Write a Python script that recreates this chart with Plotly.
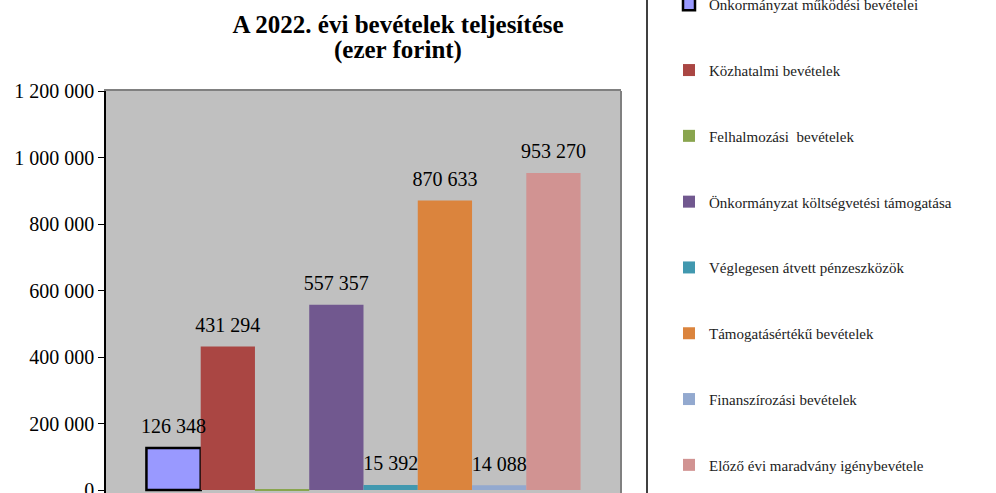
import plotly.graph_objects as go

category = ["2022"]
series_names = [
    "Önkormányzat működési bevételei",
    "Közhatalmi bevételek",
    "Felhalmozási  bevételek",
    "Önkormányzat költségvetési támogatása",
    "Véglegesen átvett pénzeszközök",
    "Támogatásértékű bevételek",
    "Finanszírozási bevételek",
    "Előző évi maradvány igénybevétele",
]
values = [126348, 431294, 3000, 557357, 15392, 870633, 14088, 953270]
show_label = [True, True, False, True, True, True, True, True]
colors = ["#9999FF", "#AA4643", "#89A54E", "#71588F", "#4198AF", "#DB843D", "#93A9CF", "#D19392"]
y_ticks = [0, 200000, 400000, 600000, 800000, 1000000, 1200000]
title_line1 = "A 2022. évi bevételek teljesítése"
title_line2 = "(ezer forint)"

SERIF = "Liberation Serif, Times New Roman, serif"
W, H = 996, 493

fig = go.Figure()
for i, (name, v, c) in enumerate(zip(series_names, values, colors)):
    fig.add_trace(go.Bar(
        x=category, y=[v], name=name,
        marker=dict(color=c, line=dict(color="black", width=2.5 if i == 0 else 0)),
        offsetgroup=f"g{i}",
        legendgroup=f"g{i}",
        hoverinfo="skip",
    ))
for i, (v, show) in enumerate(zip(values, show_label)):
    fig.add_trace(go.Scatter(
        x=category, y=[v], mode="markers+text",
        text=[f"{v:,}".replace(",", " ") if show else ""],
        textposition="top center",
        textfont=dict(family=SERIF, size=20, color="black"),
        marker=dict(size=14, opacity=0),
        offsetgroup=f"g{i}",
        showlegend=False, cliponaxis=False, hoverinfo="skip",
    ))

title_px = 398
fig.update_layout(
    width=W, height=H,
    margin=dict(l=106, r=375, t=91, b=0, autoexpand=False),
    paper_bgcolor="white",
    plot_bgcolor="#C0C0C0",
    separators=", ",
    barmode="group",
    scattermode="group",
    bargap=0.157,
    bargroupgap=0,
    scattergap=0.157,
    title=dict(
        text=f"<b>{title_line1}</b>",
        font=dict(family=SERIF, size=25, color="black"),
        x=title_px / W, xanchor="center",
        y=1 - 24 / H, yanchor="middle",
    ),
    annotations=[dict(
        text=f"<b>{title_line2}</b>", xref="paper", yref="paper",
        x=(title_px - 106) / 515, y=1 + (91 - 50) / 402,
        xanchor="center", yanchor="middle", showarrow=False,
        font=dict(family=SERIF, size=25, color="black"),
    )],
    xaxis=dict(showticklabels=False, showline=True, linecolor="#808080", linewidth=2,
               mirror=True, ticks=""),
    yaxis=dict(range=[-9000, 1200000], tickvals=y_ticks, tickformat=",.0f",
               showgrid=False, zeroline=False, showline=True, linecolor="black",
               linewidth=1.5, ticks="outside", ticklen=6, tickcolor="black",
               ticklabeloverflow="allow",
               tickfont=dict(family=SERIF, size=20, color="black")),
    showlegend=True,
    legend=dict(
        x=(669 - 106) / 515, xanchor="left", y=1 + 103 / 402, yanchor="top",
        traceorder="grouped", tracegroupgap=43.3,
        font=dict(family=SERIF, size=15, color="#222222"),
        bgcolor="rgba(0,0,0,0)", itemwidth=30, maxheight=700,
    ),
    shapes=[
        dict(type="line", xref="paper", yref="paper", x0=1.0, x1=1.0, y0=0, y1=1.0,
             line=dict(color="#808080", width=2)),
        dict(type="line", xref="paper", yref="paper", x0=(647 - 106) / 515, x1=(647 - 106) / 515,
             y0=0, y1=1.3, line=dict(color="black", width=1.5)),
    ],
)

fig.write_html("out.html", config={"displayModeBar": False},
               post_script="document.body.style.margin='0';")
